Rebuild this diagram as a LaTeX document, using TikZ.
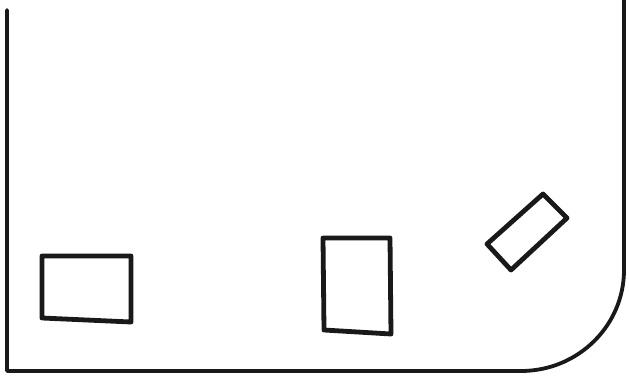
\documentclass[tikz,border=0pt]{standalone}
\begin{document}
\begin{tikzpicture}[x=1pt,y=-1pt,
  ink/.style={draw=black!90,line width=3.8pt,line join=round,line cap=round},
  box/.style={ink,line width=4.8pt}]
\useasboundingbox[fill=white] (0,0) rectangle (629,375);
\coordinate (tl) at (7,10);
\coordinate (bl) at (7,371);
\coordinate (bc) at (521,371);
\coordinate (tr) at (624,0);
\draw[ink] (tl) -- (bl) -- (bc) arc[start angle=-90,end angle=0,x radius=103,y radius=-101] -- (tr);
% rectangles
\draw[box] (42,256) -- (131,256) -- (131,322) -- (42,318) -- cycle;
\draw[box] (323,238) -- (390,238) -- (391,334) -- (324,330) -- cycle;
\draw[box] (543,194) -- (567,218) -- (511,270) -- (487,244) -- cycle;
\end{tikzpicture}
\end{document}
